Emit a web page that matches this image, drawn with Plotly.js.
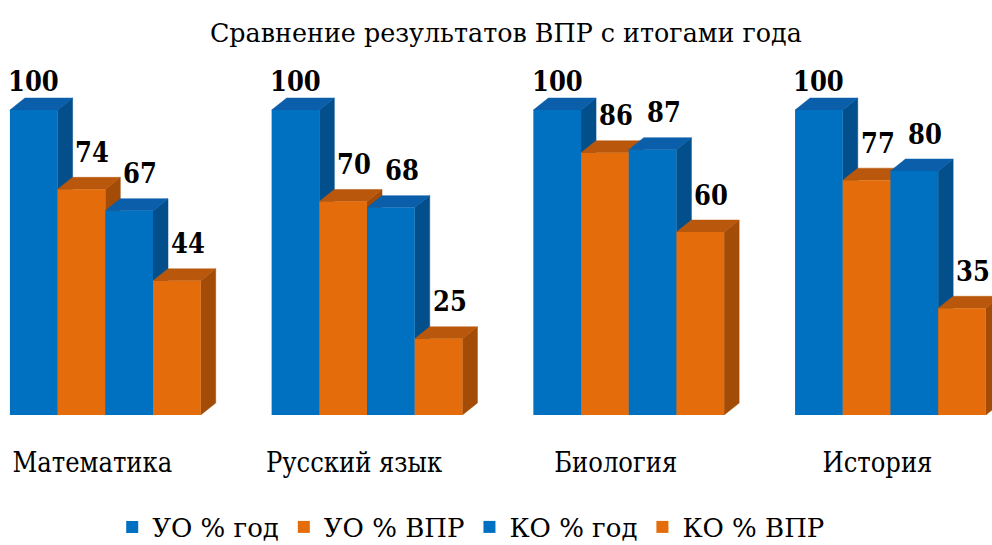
<!DOCTYPE html>
<html>
<head>
<meta charset="utf-8">
<script src="https://cdn.plot.ly/plotly-3.0.1.min.js"></script>
<style>html,body{margin:0;padding:0;background:#fff;}#chart{width:992px;height:545px;}</style>
</head>
<body>
<div id="chart"></div>
<script>
// ---- data ----
const categories = ['Математика', 'Русский язык', 'Биология', 'История'];
const seriesNames = ['УО % год', 'УО % ВПР', 'КО % год', 'КО % ВПР'];
const uoYear = [100, 100, 100, 100];
const uoVpr = [74, 70, 86, 77];
const koYear = [67, 68, 87, 80];
const koVpr = [44, 25, 60, 35];

// ---- styling ----
const FONT = 'DejaVu Serif';
const FONTC = 'DejaVu Serif Condensed';
const frontColors = ['#0070C0', '#E46C0A', '#0070C0', '#E46C0A'];
const topColors = ['#0B5EAA', '#B9580C', '#0B5EAA', '#B9580C'];
const sideColors = ['#034F8C', '#A24C07', '#034F8C', '#A24C07'];
const labelXShift = [0, 11, 11, 11];
const labelYShift = [29, 37, 37, 37];

const seriesValues = [uoYear, uoVpr, koYear, koVpr];
const xPos = categories.map((c, i) => i);
const bargap = 0.271;
const groupW = 1 - bargap;
const barW = groupW / seriesValues.length;
const depthX = 0.0573;
const depthY = 3.93;
const xRange = [-0.4024, 3.388];
const yRange = [0, 116.4];

const traces = [];
const annotations = [];

seriesValues.forEach((vals, s) => {
  const sx = [], sy = [], tx = [], ty = [];
  vals.forEach((v, g) => {
    const left = xPos[g] - groupW / 2 + s * barW;
    const right = left + barW;
    sx.push(right, right + depthX, right + depthX, right, right, null);
    sy.push(0, depthY, v + depthY, v, 0, null);
    tx.push(left, left + depthX, right + depthX, right, left, null);
    ty.push(v, v + depthY, v + depthY, v, v, null);
    annotations.push({
      x: (left + right) / 2, y: v, xref: 'x', yref: 'y',
      text: '<b>' + v + '</b>', showarrow: false,
      xanchor: 'center', yanchor: 'middle',
      xshift: labelXShift[s], yshift: labelYShift[s],
      font: {family: FONTC, size: 27, color: '#000'}
    });
  });
  traces.push({
    type: 'scatter', x: sx, y: sy, mode: 'lines', fill: 'toself',
    fillcolor: sideColors[s], line: {width: 0.5, color: sideColors[s]},
    connectgaps: false, showlegend: false, hoverinfo: 'skip',
    xaxis: 'x', yaxis: 'y', cliponaxis: false
  });
  traces.push({
    type: 'scatter', x: tx, y: ty, mode: 'lines', fill: 'toself',
    fillcolor: topColors[s], line: {width: 0.5, color: topColors[s]},
    connectgaps: false, showlegend: false, hoverinfo: 'skip',
    xaxis: 'x', yaxis: 'y', cliponaxis: false
  });
});

seriesValues.forEach((vals, s) => {
  traces.push({
    type: 'bar', name: seriesNames[s], x: xPos, y: vals,
    marker: {color: frontColors[s], line: {width: 0}},
    xaxis: 'x2', yaxis: 'y2', hoverinfo: 'skip', cliponaxis: false
  });
});

const layout = {
  width: 992, height: 545,
  margin: {l: 0, r: 0, t: 60, b: 130},
  paper_bgcolor: '#fff', plot_bgcolor: 'rgba(0,0,0,0)',
  font: {family: FONT, color: '#000', size: 28},
  title: {
    text: 'Сравнение результатов ВПР с итогами года',
    font: {family: FONT, size: 25.4, color: '#000'},
    x: 0.51, xanchor: 'center', xref: 'paper',
    y: 1 - 33 / 545, yanchor: 'middle', yref: 'container'
  },
  barmode: 'group', bargap: bargap, bargroupgap: 0,
  xaxis: {
    range: xRange, showgrid: false, zeroline: false, showline: false,
    tickmode: 'array', tickvals: xPos, ticktext: categories,
    ticks: '', ticklabelshift: -13, ticklabelstandoff: 29,
    tickfont: {family: FONTC, size: 27, color: '#000'}, fixedrange: true
  },
  yaxis: {range: yRange, visible: false, fixedrange: true},
  xaxis2: {range: xRange, overlaying: 'x', visible: false, fixedrange: true},
  yaxis2: {range: yRange, overlaying: 'y', visible: false, fixedrange: true},
  legend: {
    orientation: 'h', x: 0.475, xanchor: 'center',
    y: 1 - 527 / 545, yanchor: 'middle', yref: 'container',
    font: {family: FONT, size: 26, color: '#000'},
    bgcolor: 'rgba(0,0,0,0)', itemclick: false, itemdoubleclick: false
  },
  annotations: annotations,
  showlegend: true
};

Plotly.newPlot('chart', traces, layout, {displayModeBar: false, staticPlot: true});
</script>
</body>
</html>
